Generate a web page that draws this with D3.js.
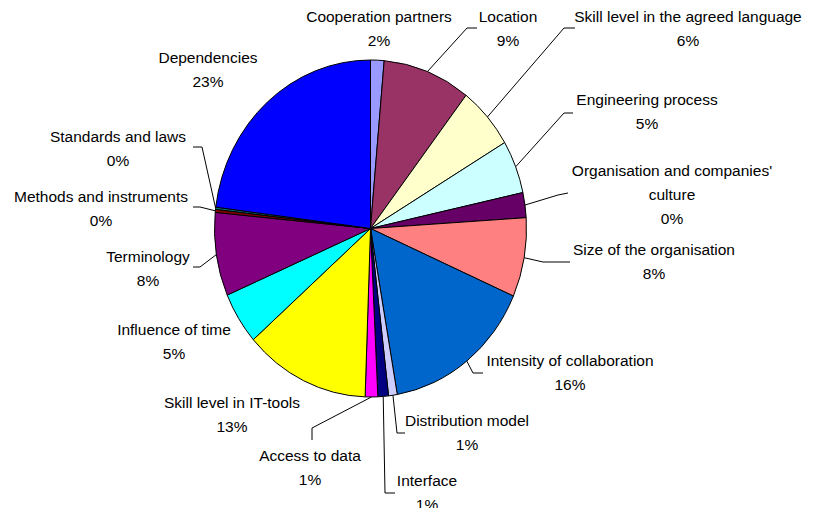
<!DOCTYPE html>
<html>
<head>
<meta charset="utf-8">
<script src="https://cdn.jsdelivr.net/npm/d3@7"></script>
<style>
  html, body { margin: 0; padding: 0; background: #fff; }
  svg text { font-family: "Liberation Sans", Arial, sans-serif; font-size: 15.5px; fill: #000; }
</style>
</head>
<body>
<svg id="chart" width="817" height="508"></svg>
<script>
// categories, clockwise from 12 o'clock
var categories = [
    "Cooperation partners", "Location", "Skill level in the agreed language",
    "Engineering process", "Organisation and companies' culture", "Size of the organisation",
    "Intensity of collaboration", "Distribution model", "Interface", "Access to data",
    "Skill level in IT-tools", "Influence of time", "Terminology",
    "Methods and instruments", "Standards and laws", "Dependencies"
];
// slice sizes (share of the circle, %)
var values = [1.4, 9.1, 6.0, 5.1, 2.4, 7.6, 15.7, 0.9, 1.1, 1.3, 13.0, 5.0, 8.0, 0.3, 0.2, 23.0];
// percentages printed on the labels
var pctLabels = ["2%", "9%", "6%", "5%", "0%", "8%", "16%", "1%", "1%", "1%", "13%", "5%", "8%", "0%", "0%", "23%"];
// excel default palette
var colors = ["#9999FF", "#993366", "#FFFFCC", "#CCFFFF", "#660066", "#FF8080", "#0066CC", "#CCCCFF",
              "#000080", "#FF00FF", "#FFFF00", "#00FFFF", "#800080", "#800000", "#008080", "#0000FF"];

var cx = 370.5, cy = 228.5, rx = 156, ry = 168.5;

// label placement: text lines, centre x, first line centre y, leader start + elbow
var labelLayout = [
    {lines: ["Cooperation partners"], x: 379, y: 17, lead: null},
    {lines: ["Location"], x: 508, y: 17, lead: [[477, 28], [467, 28]]},
    {lines: ["Skill level in the agreed language"], x: 688, y: 17, lead: [[575, 28], [564, 28]]},
    {lines: ["Engineering process"], x: 647, y: 100, lead: [[573, 113], [564, 113]]},
    {lines: ["Organisation and companies'", "culture"], x: 672, y: 171, lead: [[568, 193], [558, 195]]},
    {lines: ["Size of the organisation"], x: 654, y: 250, lead: [[570, 262], [543, 262]]},
    {lines: ["Intensity of collaboration"], x: 570, y: 361, lead: [[483, 373], [473, 373]]},
    {lines: ["Distribution model"], x: 467, y: 421, lead: [[405, 433], [397, 433]]},
    {lines: ["Interface"], x: 427, y: 481, lead: [[395, 493], [385, 493]]},
    {lines: ["Access to data"], x: 310, y: 456, lead: [[312, 440], [312, 428]]},
    {lines: ["Skill level in IT-tools"], x: 232, y: 403, lead: null},
    {lines: ["Influence of time"], x: 174, y: 330, lead: null},
    {lines: ["Terminology"], x: 148, y: 257, lead: [[193, 267], [200, 267]]},
    {lines: ["Methods and instruments"], x: 101, y: 197, lead: [[193, 207], [200, 207]]},
    {lines: ["Standards and laws"], x: 118, y: 137, lead: [[193, 147], [202, 147]]},
    {lines: ["Dependencies"], x: 208, y: 58, lead: null}
];

var data = categories.map(function (c, i) {
    return {name: c, v: values[i], pct: pctLabels[i], color: colors[i], layout: labelLayout[i]};
});

var svg = d3.select("#chart");

var pie = d3.pie().sort(null).value(function (d) { return d.v; });
var arcs = pie(data);

var arc = d3.arc().innerRadius(0).outerRadius(rx);
var edgeArc = d3.arc().innerRadius(rx).outerRadius(rx);

// pie is drawn as a circle then squashed into an ellipse
var g = svg.append("g")
    .attr("transform", "translate(" + cx + "," + cy + ") scale(1," + (ry / rx) + ")");

g.selectAll("path")
    .data(arcs)
    .enter().append("path")
    .attr("d", arc)
    .attr("fill", function (d) { return d.data.color; })
    .attr("stroke", "#000")
    .attr("stroke-width", 1)
    .attr("vector-effect", "non-scaling-stroke");

// leader lines
var line = d3.line();
svg.append("g").selectAll("path")
    .data(arcs.filter(function (d) { return d.data.layout.lead; }))
    .enter().append("path")
    .attr("fill", "none")
    .attr("stroke", "#000")
    .attr("stroke-width", 1)
    .attr("d", function (d) {
        var c = edgeArc.centroid(d);
        var end = [cx + c[0], cy + c[1] * ry / rx];
        return line(d.data.layout.lead.concat([end]));
    });

// labels
var lab = svg.append("g").selectAll("text")
    .data(data)
    .enter().append("text")
    .attr("text-anchor", "middle");

lab.each(function (d) {
    var t = d3.select(this);
    var rows = d.layout.lines.concat([d.pct]);
    rows.forEach(function (r, j) {
        t.append("tspan")
            .attr("x", d.layout.x)
            .attr("y", d.layout.y + 5 + j * 24)
            .text(r);
    });
});
</script>
</body>
</html>
